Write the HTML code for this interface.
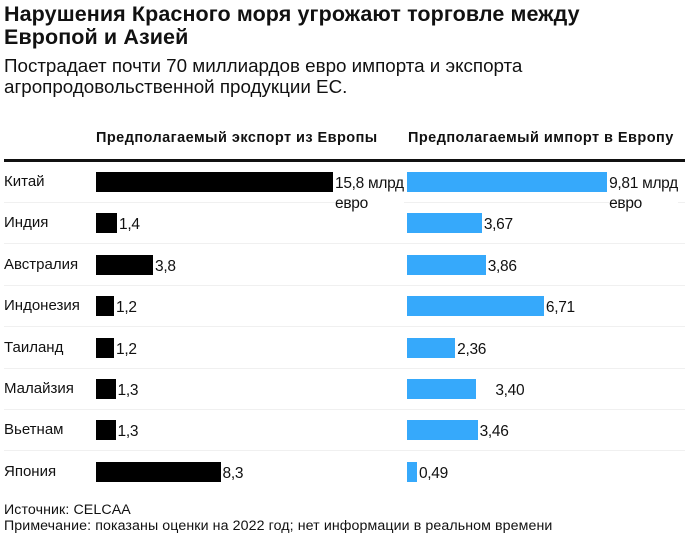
<!DOCTYPE html><html><head><meta charset="utf-8"><style>
body{margin:0;width:685px;height:539px;background:#fff;font-family:"Liberation Sans",sans-serif;color:#111;position:relative;overflow:hidden}
.a{position:absolute;white-space:nowrap}
.t{font-weight:bold;font-size:21.5px;line-height:23px;left:4px;top:3px;letter-spacing:0.1px}
.s{font-size:18.8px;line-height:21px;left:4px;top:55px;letter-spacing:0px}
.h{font-weight:bold;font-size:14.5px;top:130px;letter-spacing:0.45px}
.l{font-size:15px}
.v{font-size:15.5px;line-height:20px;letter-spacing:-0.3px;background:#fff}
.b{position:absolute;height:20px}
.sep{position:absolute;left:4px;width:681px;height:1px;background:#f0f0f0}
.f{font-size:14.2px;left:4px;letter-spacing:0.1px}
</style></head><body>
<div class="a t">Нарушения Красного моря угрожают торговле между<br>Европой и Азией</div>
<div class="a s">Пострадает почти 70 миллиардов евро импорта и экспорта<br>агропродовольственной продукции ЕС.</div>
<div class="a h" style="left:96px">Предполагаемый экспорт из Европы</div>
<div class="a h" style="left:408px">Предполагаемый импорт в Европу</div>
<div style="position:absolute;left:4px;top:159px;width:681px;height:3px;background:#111"></div>
<div id="rows"></div>
<div class="a f" style="top:502px">Источник: CELCAA</div>
<div class="a f" style="top:518px">Примечание: показаны оценки на 2022 год; нет информации в реальном времени</div>
<script>
var d=[["Китай",15.8,"15,8 млрд",9.81,"9,81 млрд"],["Индия",1.4,"1,4",3.67,"3,67"],["Австралия",3.8,"3,8",3.86,"3,86"],["Индонезия",1.2,"1,2",6.71,"6,71"],["Таиланд",1.2,"1,2",2.36,"2,36"],["Малайзия",1.3,"1,3",3.40,"3,40"],["Вьетнам",1.3,"1,3",3.46,"3,46"],["Япония",8.3,"8,3",0.49,"0,49"]];
var h="";
d.forEach(function(r,i){var y=172+i*41.4;
if(i<7) h+='<div class="sep" style="top:'+(y+30)+'px"></div>';
h+='<div class="a l" style="left:4px;top:'+(y+1)+'px">'+r[0]+'</div>';
var w1=r[1]*15,w2=r[3]*20.4;
h+='<div class="b" style="left:96px;top:'+y+'px;width:'+w1+'px;background:#000"></div>';
h+='<div class="a v" style="left:'+(98+w1)+'px;top:'+(y+2)+'px">'+r[2]+(i==0?'<br>евро':'')+'</div>';
h+='<div class="b" style="left:407px;top:'+y+'px;width:'+w2+'px;background:#36a9fb"></div>';
var lx=407+w2+2; if(i==5) lx+=17;
h+='<div class="a v" style="left:'+lx+'px;top:'+(y+2)+'px">'+r[4]+(i==0?'<br>евро':'')+'</div>';
});
document.getElementById("rows").innerHTML=h;
</script>
</body></html>
